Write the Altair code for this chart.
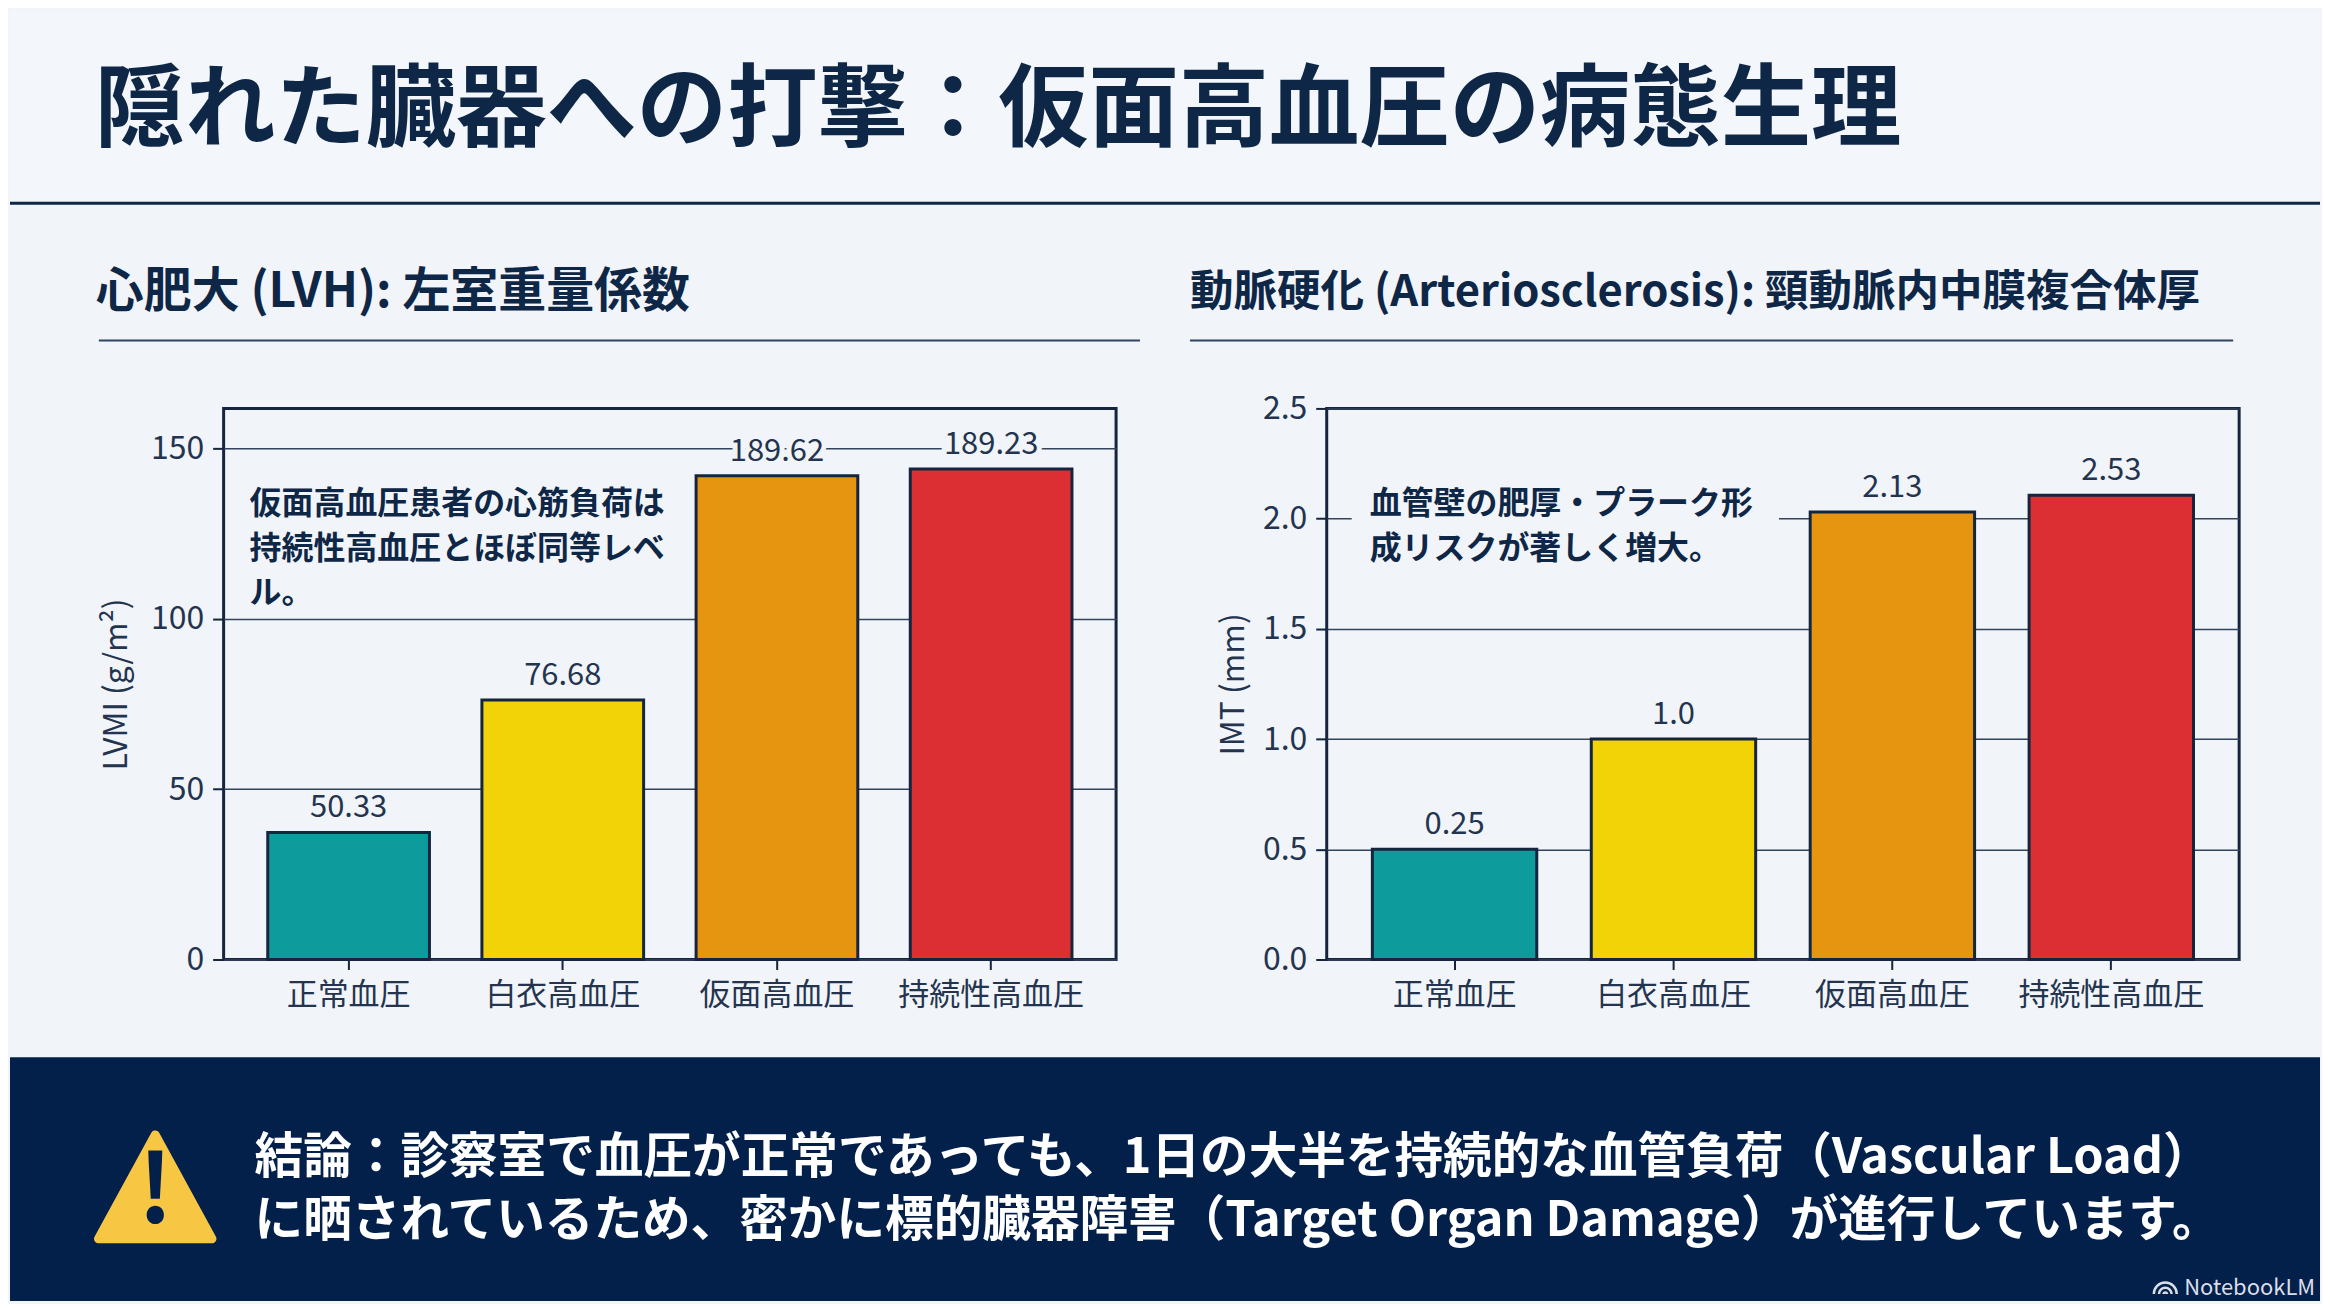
import altair as alt
import pandas as pd

FONT = "Noto Sans CJK JP"
NAVY = "#0F2747"
INK = "#24344F"
EDGE = "#16253E"
BODY = "#F1F5F9"
HEAD = "#F3F6FA"
FOOT = "#03204A"

categories = ["正常血圧", "白衣高血圧", "仮面高血圧", "持続性高血圧"]
colors = ["#0E9B9B", "#F2D307", "#E5950F", "#DC2F33"]
lvmi_bars = [37.3, 76.2, 142.0, 144.0]
lvmi_labels = ["50.33", "76.68", "189.62", "189.23"]
imt_bars = [0.5, 1.0, 2.03, 2.106]
imt_labels = ["0.25", "1.0", "2.13", "2.53"]
lvmi_ticks = [0, 50, 100, 150]
imt_ticks = [0.0, 0.5, 1.0, 1.5, 2.0, 2.5]

title_text = "隠れた臓器への打撃：仮面高血圧の病態生理"
sub_left = "心肥大 (LVH): 左室重量係数"
sub_right = "動脈硬化 (Arteriosclerosis): 頸動脈内中膜複合体厚"
note_left = ["仮面高血圧患者の心筋負荷は", "持続性高血圧とほぼ同等レベ", "ル。"]
note_right = ["血管壁の肥厚・プラーク形", "成リスクが著しく増大。"]
foot_lines = [
    "結論：診察室で血圧が正常であっても、1日の大半を持続的な血管負荷（Vascular Load）",
    "に晒されているため、密かに標的臓器障害（Target Organ Damage）が進行しています。",
]
brand = "NotebookLM"

PW, PH = 894, 552
RW = 914
RX = 1327
OX, OY = 222, 406          # page position of the left plot


def px(X):
    return X - OX


def py(Y):
    return Y - OY


def one():
    return alt.Chart(pd.DataFrame({"t": [""]}))


def rect(x1, y1, x2, y2, fill):
    return one().mark_rect(fill=fill).encode(
        x=alt.value(x1), x2=alt.value(x2), y=alt.value(y1), y2=alt.value(y2)
    )


def label(s, x, y, size, color=NAVY, weight=400, align="left", angle=0):
    return alt.Chart(pd.DataFrame({"t": [s]})).mark_text(
        font=FONT, fontSize=size, color=color, fontWeight=weight,
        align=align, baseline="middle", angle=angle,
    ).encode(x=alt.value(x), y=alt.value(y), text="t:N")


def panel(values, labels, ticks, dom, title, fmt, pad_in, pad_out, tpad, mask=None, notes=()):
    df = pd.DataFrame({"c": categories, "v": values, "l": labels})
    x = alt.X("c:N", sort=categories, title=None,
              scale=alt.Scale(paddingInner=pad_in, paddingOuter=pad_out, round=False),
              axis=alt.Axis(labelAngle=0, labelFontSize=31, labelPadding=11, tickSize=10, labelLimit=400,
                            tickWidth=2, tickColor=EDGE, domain=False, labelColor=INK, labelFont=FONT))
    y = alt.Y("v:Q", title=title,
              scale=alt.Scale(domain=dom, nice=False),
              axis=alt.Axis(values=ticks, format=fmt, grid=True, gridColor="#33435C", gridWidth=1.5,
                            tickSize=11, tickWidth=2, tickColor=EDGE, domain=False,
                            labelFontSize=32, labelColor=INK, labelFont=FONT, labelPadding=9,
                            titleFontSize=32, titleColor=INK, titleFont=FONT, titleFontWeight=400,
                            titlePadding=tpad))
    base = alt.Chart(df)
    bars = base.mark_bar(stroke=EDGE, strokeWidth=3).encode(
        x=x, y=y,
        color=alt.Color("c:N", sort=categories, legend=None,
                        scale=alt.Scale(domain=categories, range=colors)),
    )
    halo = base.mark_text(font=FONT, fontSize=31, baseline="middle", dy=-24, color=BODY,
                          stroke=BODY, strokeWidth=10).encode(
        x=alt.X("c:N", sort=categories), y=alt.Y("v:Q"), text="l:N")
    vals = base.mark_text(font=FONT, fontSize=31, baseline="middle", dy=-24, color=INK).encode(
        x=alt.X("c:N", sort=categories), y=alt.Y("v:Q"), text="l:N")
    layers = []
    if mask:
        layers.append(rect(*mask, BODY))
    layers += [bars, halo, vals]
    layers += list(notes)
    return layers


triangle = one().mark_point(
    shape="M0,-0.88 L0.94,0.84 L-0.94,0.84 Z", size=14641, filled=True, opacity=1,
    fill="#F7C744", stroke="#F7C744", strokeWidth=9, strokeJoin="round",
).encode(x=alt.value(px(153.5)), y=alt.value(py(1187)))
logo = one().mark_point(
    shape="M-1,0.8 A1,1 0 0 1 1,0.8 M-0.55,0.8 A0.55,0.55 0 0 1 0.55,0.8 M-0.15,0.8 A0.15,0.15 0 0 1 0.15,0.8",
    size=529, filled=False, opacity=1, stroke="#D9DFEA", strokeWidth=2.5,
).encode(x=alt.value(px(2167)), y=alt.value(py(1284)))

deco = [
    rect(px(8), py(8), px(2322), py(200), HEAD),
    rect(px(8), py(199), px(2322), py(202), NAVY),
    rect(px(8), py(1056), px(2322), py(1300), FOOT),
    label(title_text, px(93), py(109), 90.5, NAVY, 700),
    label(sub_left, px(94), py(290), 48, NAVY, 700),
    label(sub_right, px(1190), py(290), 43.6, NAVY, 700),
    rect(px(97), py(337), px(1140), py(339), "#33445F"),
    rect(px(1190), py(337), px(2235), py(339), "#33445F"),
    triangle,
    label("!", px(153.5), py(1193), 95, FOOT, 700, align="center"),
    label(foot_lines[0], px(253), py(1157), 48.7, "#FFFFFF", 700),
    label(foot_lines[1], px(253), py(1220), 48.7, "#FFFFFF", 700),
    logo,
    label(brand, px(2186), py(1287), 22, "#D9DFEA", 400),
]

notes_l = [label(s, px(248), py(502 + 44.5 * i), 32, NAVY, 700) for i, s in enumerate(note_left)]
notes_r = [label(s, 1370 - RX, py(502 + 44.5 * i), 32, NAVY, 700) for i, s in enumerate(note_right)]

left_layers = panel(lvmi_bars, lvmi_labels, lvmi_ticks, [0, 161.8], "LVMI (g/m²)", "d",
                    0.245, 0.206, 17, notes=notes_l)
right_layers = panel(imt_bars, imt_labels, imt_ticks, [0, 2.5], "IMT (mm)", ".1f",
                     0.249, 0.2085, 12, mask=(1352 - RX, py(480), 1780 - RX, py(570)), notes=notes_r)

left = alt.layer(*deco, *left_layers).properties(width=PW, height=PH)
right = alt.layer(*right_layers).properties(width=RW, height=PH)

chart = (
    alt.hconcat(left, right, spacing=RX - OX - PW, bounds="flush", padding=0, background=BODY)
    .configure_view(stroke=EDGE, strokeWidth=3)
)
chart.save("out.html", embed_options={"renderer": "svg", "actions": False})
